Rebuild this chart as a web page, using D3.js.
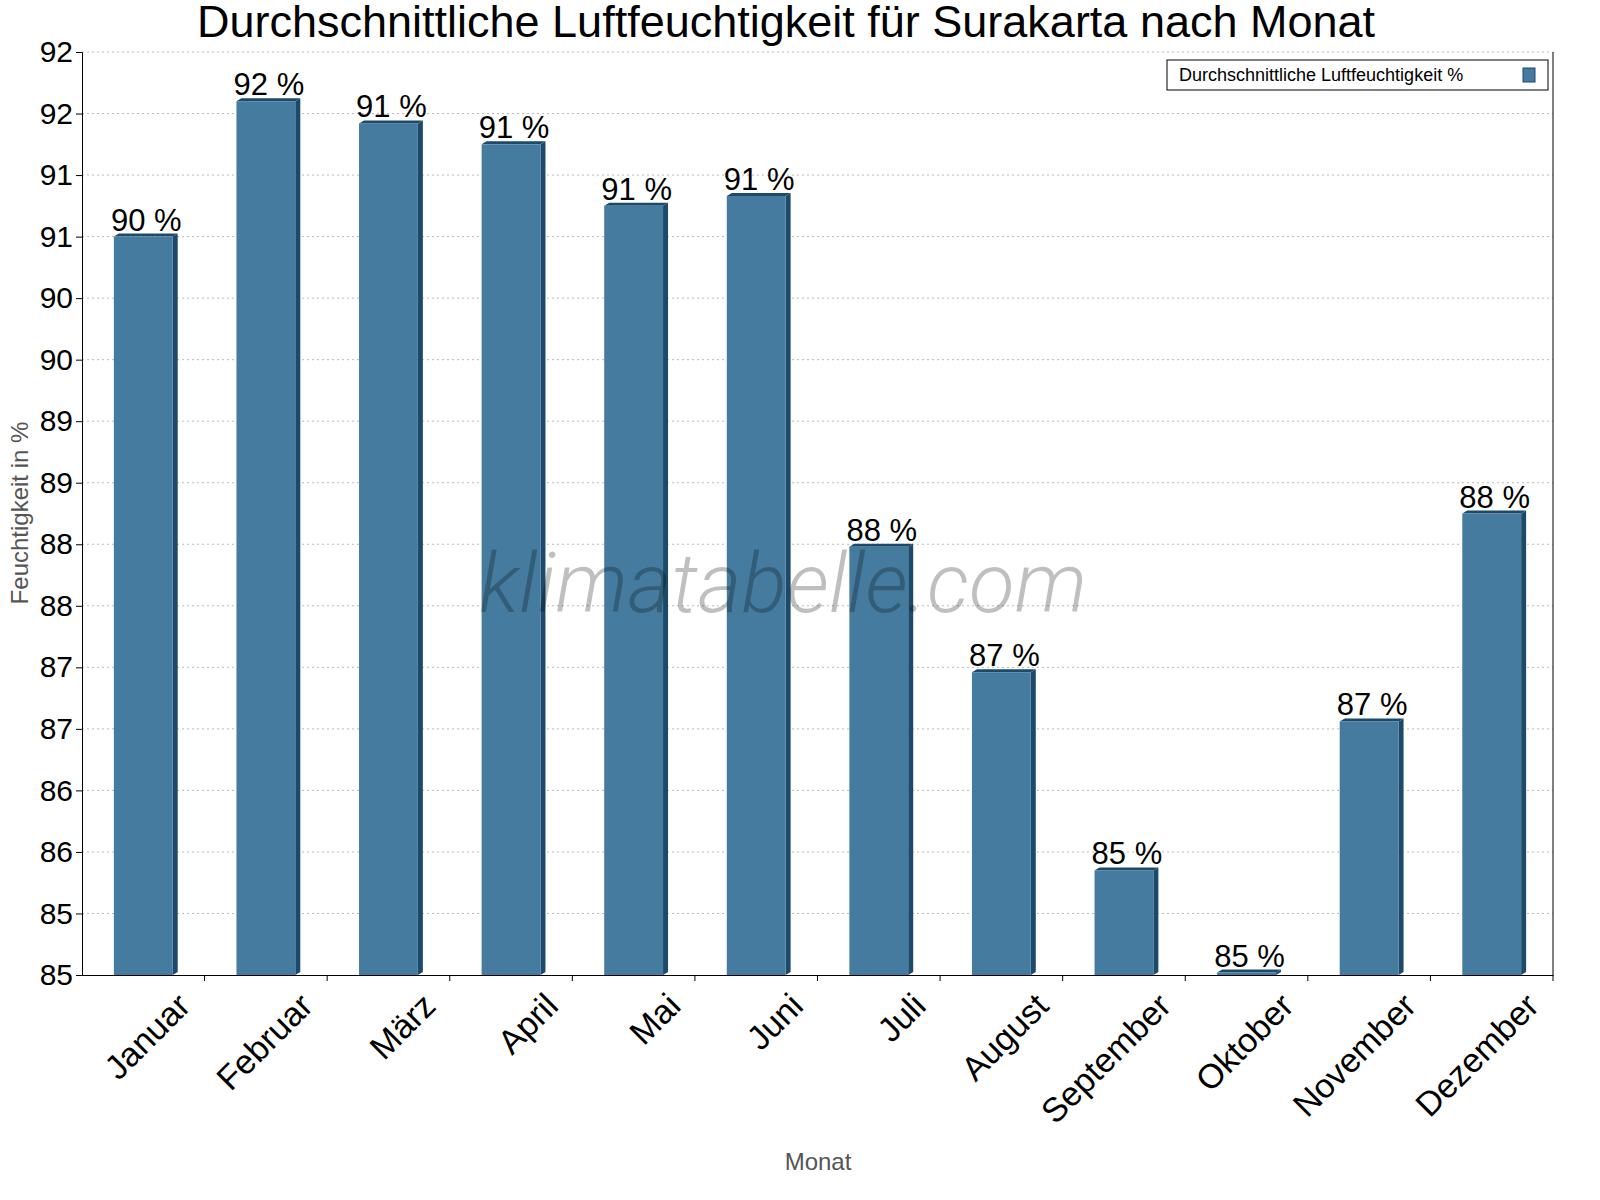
<!DOCTYPE html>
<html><head><meta charset="utf-8">
<script src="https://cdn.jsdelivr.net/npm/d3@7"></script>
<style>body{margin:0;background:#fff}text{font-family:Arial,"Liberation Sans",sans-serif}</style>
</head><body><div id="chart"></div>
<script>
var months = ["Januar","Februar","März","April","Mai","Juni","Juli","August","September","Oktober","November","Dezember"];
var humidity = [91.0, 92.1, 91.92, 91.75, 91.25, 91.33, 88.48, 87.46, 85.85, 85.02, 87.06, 88.75];
var valueLabels = ["90 %","92 %","91 %","91 %","91 %","91 %","88 %","87 %","85 %","85 %","87 %","88 %"];
var yTicks = d3.range(85, 92.51, 0.5);

var svgWidth = 1600, svgHeight = 1200;
var margin = {top: 52, right: 47, bottom: 225, left: 82};
var width = svgWidth - margin.left - margin.right;
var height = svgHeight - margin.top - margin.bottom;

var svg = d3.select("#chart").append("svg")
  .attr("width", svgWidth).attr("height", svgHeight);

var g = svg.append("g").attr("transform", `translate(${margin.left}, ${margin.top})`);

var x = d3.scaleBand().domain(months).range([0, width]).paddingInner(0.52).paddingOuter(0.26);
var y = d3.scaleLinear().domain([85, 92.5]).range([height, 0]);

// grid
g.selectAll(".grid").data(yTicks.slice(1)).enter().append("line")
  .attr("x1", 0).attr("x2", width)
  .attr("y1", d => y(d)).attr("y2", d => y(d))
  .attr("stroke", "#bbb").attr("stroke-dasharray", "2,3");

// bars with 3d side and top
var depth = 5;
var bars = g.selectAll(".bar").data(humidity).enter().append("g");
bars.append("polygon")
  .attr("points", (d, i) => {
    var x1 = x(months[i]) + x.bandwidth();
    return `${x1},${y(d)} ${x1 + depth},${y(d) - 3} ${x1 + depth},${height - 3} ${x1},${height}`;
  }).attr("fill", "#1b4a6b");
bars.append("polygon")
  .attr("points", (d, i) => {
    var x0 = x(months[i]), x1 = x0 + x.bandwidth();
    return `${x0},${y(d)} ${x0 + depth},${y(d) - 3} ${x1 + depth},${y(d) - 3} ${x1},${y(d)}`;
  }).attr("fill", "#1b4a6b");
bars.append("rect")
  .attr("x", (d, i) => x(months[i])).attr("y", d => y(d))
  .attr("width", x.bandwidth()).attr("height", d => height - y(d))
  .attr("fill", "#447b9e");

// watermark (on top, translucent)
svg.append("text").attr("x", 783).attr("y", 612)
  .attr("text-anchor", "middle").attr("font-size", 84).attr("font-style", "italic")
  .attr("font-weight", 300).style("font-family", "Roboto, Arial, sans-serif")
  .attr("fill", "#000").attr("fill-opacity", 0.25).text("klimatabelle.com");

g.selectAll(".vl").data(humidity).enter().append("text")
  .attr("x", (d, i) => x(months[i]) + x.bandwidth() / 2 + 3)
  .attr("y", d => y(d) - 6)
  .attr("text-anchor", "middle").attr("font-size", 31).attr("fill", "#000")
  .text((d, i) => valueLabels[i]);

// axes
var yAxis = d3.axisLeft(y).tickValues(yTicks).tickFormat(d => Math.floor(d)).tickSize(6);
var ya = g.append("g").call(yAxis);
ya.selectAll("text").attr("font-size", 30).attr("fill", "#000");
ya.select(".domain").attr("stroke", "#000");

g.append("line").attr("x1", width).attr("x2", width).attr("y1", 0).attr("y2", height).attr("stroke", "#000");

var xa = g.append("g").attr("transform", `translate(0, ${height})`)
  .call(d3.axisBottom(x).tickSize(0));
xa.select(".domain").attr("stroke", "#000");
xa.selectAll("text").attr("font-size", 34).attr("fill", "#000")
  .attr("text-anchor", "end")
  .attr("transform", "translate(30,14) rotate(-45)").attr("dy", "0.7em");
g.selectAll(".xt").data(d3.range(1, 13)).enter().append("line")
  .attr("x1", d => d * width / 12).attr("x2", d => d * width / 12)
  .attr("y1", height).attr("y2", height + 6).attr("stroke", "#000");

// titles
svg.append("text").attr("x", 786).attr("y", 37).attr("text-anchor", "middle")
  .attr("font-size", 45).attr("fill", "#000")
  .text("Durchschnittliche Luftfeuchtigkeit für Surakarta nach Monat");
svg.append("text").attr("transform", "translate(28, 513) rotate(-90)")
  .attr("text-anchor", "middle").attr("font-size", 24).attr("fill", "#555")
  .text("Feuchtigkeit in %");
svg.append("text").attr("x", 818).attr("y", 1170).attr("text-anchor", "middle")
  .attr("font-size", 24).attr("fill", "#555").text("Monat");

// legend
var lg = svg.append("g").attr("transform", "translate(1167, 60)");
lg.append("rect").attr("width", 381).attr("height", 30).attr("fill", "#fff").attr("stroke", "#000");
lg.append("text").attr("x", 12).attr("y", 21).attr("font-size", 18).attr("fill", "#000")
  .text("Durchschnittliche Luftfeuchtigkeit %");
lg.append("rect").attr("x", 356).attr("y", 8).attr("width", 12).attr("height", 14)
  .attr("fill", "#447b9e").attr("stroke", "#1b4a6b");
</script></body></html>
